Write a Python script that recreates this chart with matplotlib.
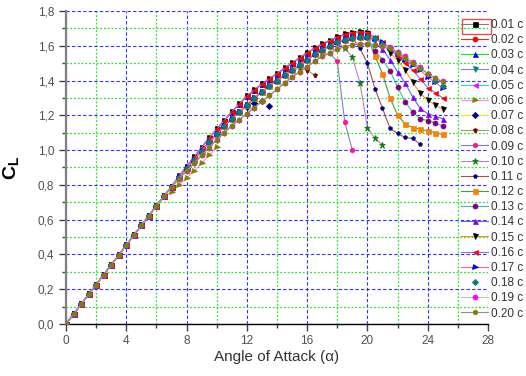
import numpy as np
import matplotlib
matplotlib.use("Agg")
import matplotlib.pyplot as plt
from matplotlib.ticker import MultipleLocator, FuncFormatter
from matplotlib.patches import Rectangle

plt.rcParams['font.family'] = ['Liberation Sans', 'DejaVu Sans']
plt.rcParams['mathtext.fontset'] = 'custom'
plt.rcParams['mathtext.rm'] = 'Liberation Sans'
plt.rcParams['mathtext.bf'] = 'Liberation Sans:bold'

# angle of attack grid (deg), 0 .. 25 step 0.5
aoa = np.arange(0, 25.01, 0.5)

# common linear part, alpha 0 .. 7
cl_lin = [0.0, 0.057, 0.113, 0.17, 0.227, 0.283, 0.34, 0.397, 0.453, 0.51,
          0.567, 0.623, 0.68, 0.735, 0.79]
# attached branches, alpha 7.5 .. 21 (top/mid) and 7.5 .. 25 (low)
cl_top = [0.85, 0.905, 0.96, 1.015, 1.07, 1.12, 1.17, 1.22, 1.265, 1.31, 1.345,
          1.38, 1.41, 1.44, 1.47, 1.50, 1.53, 1.56, 1.585, 1.61, 1.63, 1.65,
          1.665, 1.675, 1.68, 1.675, 1.665, 1.65]
cl_mid = [0.845, 0.895, 0.945, 0.995, 1.045, 1.09, 1.14, 1.18, 1.22, 1.26, 1.30,
          1.335, 1.37, 1.40, 1.43, 1.46, 1.49, 1.52, 1.55, 1.575, 1.60, 1.62,
          1.635, 1.645, 1.65, 1.65, 1.645, 1.635]
cl_low = [0.835, 0.88, 0.925, 0.97, 1.015, 1.06, 1.10, 1.14, 1.175, 1.21, 1.245,
          1.28, 1.315, 1.35, 1.385, 1.42, 1.45, 1.48, 1.51, 1.54, 1.56, 1.58,
          1.595, 1.605, 1.61, 1.61, 1.605, 1.60, 1.585, 1.56, 1.53, 1.50, 1.47,
          1.44, 1.415, 1.39]

T = cl_lin + cl_top
M = cl_lin + cl_mid
L = cl_lin + cl_low

labels = ['0.01 c', '0.02 c', '0.03 c', '0.04 c', '0.05 c', '0.06 c', '0.07 c',
          '0.08 c', '0.09 c', '0.10 c', '0.11 c', '0.12 c', '0.13 c', '0.14 c',
          '0.15 c', '0.16 c', '0.17 c', '0.18 c', '0.19 c', '0.20 c']

# CL values per series (index i -> alpha = 0.5*i)
cl_series = [
    T[:41],                                                     # 0.01
    T[:41],                                                     # 0.02
    T[:41],                                                     # 0.03
    M[:41],                                                     # 0.04
    M[:41],                                                     # 0.05
    cl_lin[:14] + [0.76, 0.80, 0.84, 0.88, 0.925, 0.97, 1.02],  # 0.06
    M[:24] + [1.25, 1.27, 1.28, 1.255],                         # 0.07
    M[:31] + [1.47, 1.46, 1.43],                                # 0.08
    L[:35] + [1.556, 1.51, 1.16, 1.0],                          # 0.09
    M[:37] + [1.585, 1.536, 1.387, 1.13, 1.067, 1.03],          # 0.10
    M[:39] + [1.585, 1.50, 1.354, 1.24, 1.125, 1.096, 1.073, 1.067, 1.034],  # 0.11
    M[:41] + [1.54, 1.44, 1.30, 1.20, 1.15, 1.13, 1.12, 1.11, 1.10, 1.09],   # 0.12
    M[:41] + [1.57, 1.52, 1.456, 1.364, 1.277, 1.22, 1.18, 1.17, 1.157, 1.138],  # 0.13
    T[:41] + [1.615, 1.58, 1.52, 1.45, 1.387, 1.306, 1.24, 1.21, 1.195, 1.18],   # 0.14
    T[:41] + [1.64, 1.61, 1.56, 1.517, 1.46, 1.39, 1.326, 1.287, 1.26, 1.234],   # 0.15
    T[:41] + [1.65, 1.62, 1.58, 1.54, 1.50, 1.46, 1.41, 1.36, 1.33, 1.30],       # 0.16
    M[:41] + [1.64, 1.62, 1.59, 1.555, 1.52, 1.49, 1.46, 1.42, 1.39, 1.355],     # 0.17
    M[:42] + [1.61, 1.59, 1.56, 1.53, 1.50, 1.47, 1.44, 1.40, 1.37],            # 0.18
    L[:43] + [1.594, 1.565, 1.54, 1.507, 1.48, 1.44, 1.415, 1.395],             # 0.19
    L,                                                                          # 0.20
]

marker_colors = ['black', 'red', 'blue', '#008080', '#ff00ff', '#808000', '#000080',
                 '#800000', '#ff1493', '#008000', '#000080', '#ff8000', '#800080',
                 '#8000ff', 'black', 'red', 'blue', '#008080', '#ff00ff', '#808000']
line_colors = ['#808080', '#ff2020', '#20e020', '#8080ff', '#00f0f0', '#ff80ff', '#f0f000',
               '#a0a060', '#8080c0', '#c080c0', '#a05050', '#40a040', '#40c0a0',
               '#6060ff', '#ff9020', '#a060ff', '#ff60a0', 'none', '#c0c0c0', '#909090']
markers = ['s', 'o', '^', 'v', '<', '>', 'D', 'p', 'h', '*', 'p',
           's', 'o', '^', 'v', '<', '>', 'D', 'o', 'h']

fig = plt.figure(figsize=(5.26, 3.76), dpi=100)
ax = fig.add_axes([66/526, 1-324/376, (488-66)/526, (324-11)/376])

for i in range(len(labels)):
    y = cl_series[i]
    x = aoa[:len(y)]
    ms = 3.6
    if markers[i] == '*':
        ms = 5.0
    elif markers[i] == 'D':
        ms = 3.2
    if i == 10:
        ms = 3.0
    ax.plot(x, y, color=line_colors[i], lw=0.8, marker=markers[i], ms=ms,
            mfc=marker_colors[i], mec=marker_colors[i], mew=0.5,
            label=labels[i], zorder=3)

ax.set_xlim(0, 28)
ax.set_ylim(0, 1.8)
ax.xaxis.set_major_locator(MultipleLocator(4))
ax.xaxis.set_minor_locator(MultipleLocator(2))
ax.yaxis.set_major_locator(MultipleLocator(0.2))
ax.yaxis.set_minor_locator(MultipleLocator(0.1))
ax.yaxis.set_major_formatter(FuncFormatter(lambda v, p: f"{v:.1f}".replace('.', ',')))

ax.grid(which='major', color='#3030ff', ls=(0, (3, 2)), lw=0.8, zorder=0)
ax.grid(which='minor', color='#30e030', ls=(0, (1.5, 1.5)), lw=0.9, zorder=0)
ax.set_axisbelow(True)

for s in ('top', 'right'):
    ax.spines[s].set_visible(False)
ax.spines['left'].set_color('#808080')
ax.spines['left'].set_linewidth(1.6)
ax.spines['bottom'].set_color('black')
ax.spines['bottom'].set_linewidth(1.0)

ax.tick_params(which='major', direction='out', length=5, width=1, colors='#404040',
               labelsize=8.5, labelcolor='#505050')
ax.tick_params(which='minor', direction='out', length=3, width=1, colors='#404040')
ax.tick_params(axis='x', pad=3)

ax.set_xlabel('Angle of Attack (α)', fontsize=11, color='#333333', labelpad=2)
ax.set_ylabel(r'$\mathbf{C}_\mathbf{L}$', fontsize=14, color='black', labelpad=11)

leg = fig.legend(loc='upper left', bbox_to_anchor=(461/526, 1-19/376),
                 frameon=False, fontsize=8.5, handlelength=2.3, handletextpad=0.25,
                 labelspacing=0.27, borderaxespad=0, borderpad=0)
for t in leg.get_texts():
    t.set_color('#333333')

fig.patches.append(Rectangle((462/526, 1-33.5/376), 29/526, 14.5/376,
                             transform=fig.transFigure, fill=False,
                             ec='#e05050', lw=1.0))

fig.savefig('out.png', dpi=100)
